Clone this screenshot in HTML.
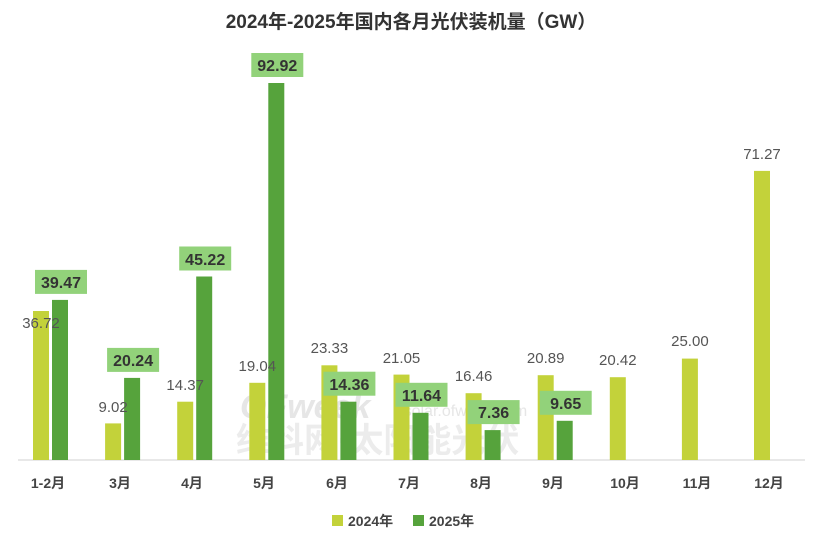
<!DOCTYPE html>
<html><head><meta charset="utf-8"><style>
body{margin:0;background:#fff;}
svg text{font-family:"Liberation Sans","Noto Sans CJK SC",sans-serif;}
</style></head><body>
<svg width="822" height="548" xmlns="http://www.w3.org/2000/svg">
<rect width="822" height="548" fill="#fff"/>
<text x="411" y="28" text-anchor="middle" font-size="19" font-weight="bold" fill="#333">2024年-2025年国内各月光伏装机量（GW）</text>
<text x="240" y="418" font-size="34" font-weight="bold" fill="#e6e6e6" font-style="italic">OFweek</text>
<text x="395" y="416" font-size="16" fill="#e6e6e6">| solar.ofweek.com</text>
<text x="236" y="452" font-size="34" font-weight="bold" fill="#ececec">维科网·太阳能光伏</text>
<line x1="18" y1="460" x2="805" y2="460" stroke="#d0d0d0" stroke-width="1"/>
<g fill="#c3d23a">
<rect x="33" y="311" width="16" height="149"/>
<rect x="105.1" y="423.4" width="16" height="36.6"/>
<rect x="177.2" y="401.7" width="16" height="58.3"/>
<rect x="249.3" y="382.8" width="16" height="77.2"/>
<rect x="321.4" y="365.3" width="16" height="94.7"/>
<rect x="393.5" y="374.6" width="16" height="85.4"/>
<rect x="465.6" y="393.2" width="16" height="66.8"/>
<rect x="537.7" y="375.2" width="16" height="84.8"/>
<rect x="609.8" y="377.2" width="16" height="82.8"/>
<rect x="681.9" y="358.6" width="16" height="101.4"/>
<rect x="754" y="170.9" width="16" height="289.1"/>
</g>
<g fill="#56a33c">
<rect x="52" y="299.9" width="16" height="160.1"/>
<rect x="124.1" y="377.9" width="16" height="82.1"/>
<rect x="196.2" y="276.5" width="16" height="183.5"/>
<rect x="268.3" y="83" width="16" height="377"/>
<rect x="340.4" y="401.7" width="16" height="58.3"/>
<rect x="412.5" y="412.8" width="16" height="47.2"/>
<rect x="484.6" y="430.1" width="16" height="29.9"/>
<rect x="556.7" y="420.8" width="16" height="39.2"/>
</g>
<g font-size="15" fill="#555" text-anchor="middle">
<text x="41" y="328">36.72</text>
<text x="113.1" y="412">9.02</text>
<text x="185.2" y="390">14.37</text>
<text x="257.3" y="371">19.04</text>
<text x="329.4" y="353">23.33</text>
<text x="401.5" y="363">21.05</text>
<text x="473.6" y="381">16.46</text>
<text x="545.7" y="363">20.89</text>
<text x="617.8" y="365">20.42</text>
<text x="689.9" y="346">25.00</text>
<text x="762" y="159">71.27</text>
</g>
<g fill="#92d27a">
<rect x="35" y="269.9" width="52" height="24"/>
<rect x="107.1" y="347.9" width="52" height="24"/>
<rect x="179.2" y="246.5" width="52" height="24"/>
<rect x="251.3" y="53" width="52" height="24"/>
<rect x="323.4" y="371.7" width="52" height="24"/>
<rect x="395.5" y="382.8" width="52" height="24"/>
<rect x="467.6" y="400.1" width="52" height="24"/>
<rect x="539.7" y="390.8" width="52" height="24"/>
</g>
<g font-size="16" font-weight="bold" fill="#333" text-anchor="middle">
<text x="61" y="288">39.47</text>
<text x="133.1" y="366">20.24</text>
<text x="205.2" y="265">45.22</text>
<text x="277.3" y="71">92.92</text>
<text x="349.4" y="390">14.36</text>
<text x="421.5" y="401">11.64</text>
<text x="493.6" y="418">7.36</text>
<text x="565.7" y="409">9.65</text>
</g>
<g font-size="14" font-weight="bold" fill="#444" text-anchor="middle">
<text x="48" y="488">1-2月</text><text x="120" y="488">3月</text><text x="192" y="488">4月</text><text x="264" y="488">5月</text><text x="337" y="488">6月</text><text x="409" y="488">7月</text><text x="481" y="488">8月</text><text x="553" y="488">9月</text><text x="625" y="488">10月</text><text x="697" y="488">11月</text><text x="769" y="488">12月</text>
</g>
<rect x="332" y="515" width="11" height="11" fill="#c3d23a"/>
<text x="348" y="526" font-size="14" font-weight="bold" fill="#444">2024年</text>
<rect x="413" y="515" width="11" height="11" fill="#56a33c"/>
<text x="429" y="526" font-size="14" font-weight="bold" fill="#444">2025年</text>
</svg>
</body></html>
